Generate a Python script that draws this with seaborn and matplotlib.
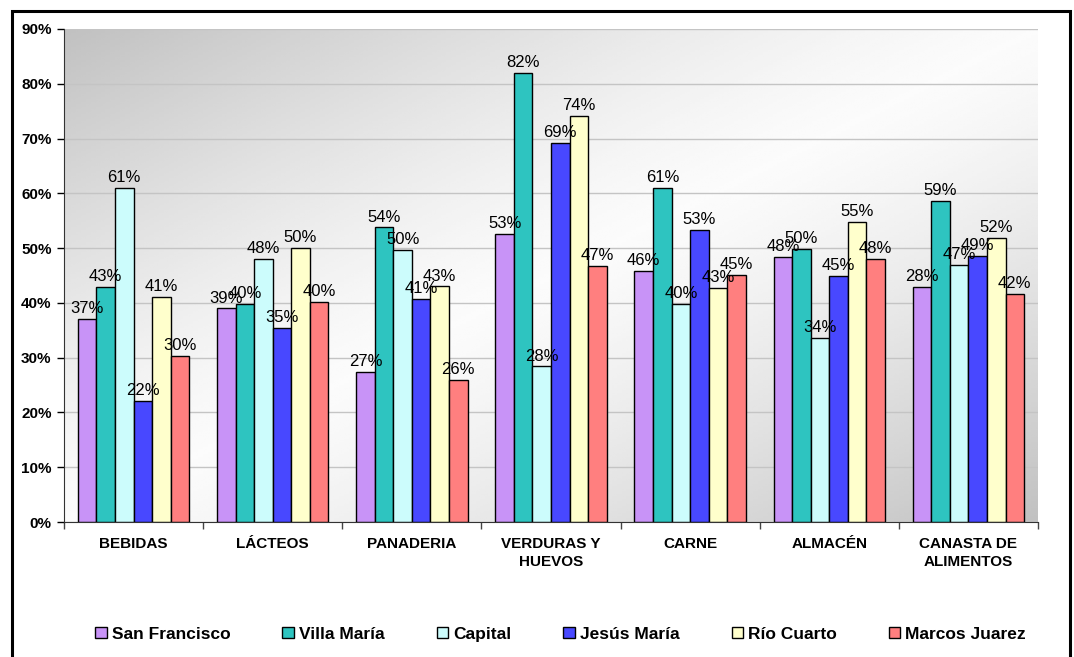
import matplotlib
matplotlib.use("Agg")
import matplotlib.pyplot as plt
import matplotlib.patches as mpatches
from matplotlib.ticker import FuncFormatter, FixedLocator
import numpy as np
import pandas as pd
import seaborn as sns

# categorias y ciudades
categorias = ['BEBIDAS', 'LÁCTEOS', 'PANADERIA', 'VERDURAS Y\nHUEVOS', 'CARNE', 'ALMACÉN',
              'CANASTA DE\nALIMENTOS']
ciudades = ['San Francisco', 'Villa María', 'Capital', 'Jesús María', 'Río Cuarto', 'Marcos Juarez']

# alturas de las barras
san_francisco = [37.1, 39.0, 27.4, 52.6, 45.8, 48.4, 42.9]
villa_maria = [42.9, 39.8, 53.8, 82.0, 61.0, 49.8, 58.6]
capital = [61.0, 48.0, 49.7, 28.4, 39.8, 33.6, 46.9]
jesus_maria = [22.1, 35.4, 40.7, 69.2, 53.3, 44.9, 48.6]
rio_cuarto = [41.1, 50.0, 43.0, 74.1, 42.7, 54.8, 51.8]
marcos_juarez = [30.3, 40.2, 25.9, 46.7, 45.1, 48.0, 41.6]

# etiquetas tal como aparecen (la de Canasta / San Francisco dice 28%)
etiq_san_francisco = ['37%', '39%', '27%', '53%', '46%', '48%', '28%']
etiq_villa_maria = ['43%', '40%', '54%', '82%', '61%', '50%', '59%']
etiq_capital = ['61%', '48%', '50%', '28%', '40%', '34%', '47%']
etiq_jesus_maria = ['22%', '35%', '41%', '69%', '53%', '45%', '49%']
etiq_rio_cuarto = ['41%', '50%', '43%', '74%', '43%', '55%', '52%']
etiq_marcos_juarez = ['30%', '40%', '26%', '47%', '45%', '48%', '42%']

colores = ['#C893F7', '#2EC4C0', '#CCFCFC', '#4848FF', '#FFFFCC', '#FF7F7F']

series = [san_francisco, villa_maria, capital, jesus_maria, rio_cuarto, marcos_juarez]
etiquetas = [etiq_san_francisco, etiq_villa_maria, etiq_capital, etiq_jesus_maria,
             etiq_rio_cuarto, etiq_marcos_juarez]

filas = []
for ciudad, valores in zip(ciudades, series):
    for cat, v in zip(categorias, valores):
        filas.append({'categoria': cat, 'ciudad': ciudad, 'valor': v})
df = pd.DataFrame(filas)

sns.set_style('white')
plt.rcParams['font.family'] = ['Liberation Sans', 'DejaVu Sans']
plt.rcParams['text.color'] = 'black'
plt.rcParams['xtick.color'] = 'black'
plt.rcParams['ytick.color'] = 'black'

fig = plt.figure(figsize=(10.74, 6.57), dpi=100)
ax = fig.add_axes([64 / 1074, 1 - 522 / 657, (1038 - 64) / 1074, (522 - 29) / 657])

# fondo degradado gris-blanco-gris en diagonal
n = 200
u, w = np.meshgrid(np.linspace(0, 1, n), np.linspace(0, 1, n))
d = np.abs(u + w - 1.0)
grad = 0.985 - 0.23 * d ** 1.3
ax.imshow(grad, extent=[0, 1, 0, 1], transform=ax.transAxes, cmap='gray', vmin=0, vmax=1,
          aspect='auto', zorder=0, interpolation='bilinear')

sns.barplot(data=df, x='categoria', y='valor', hue='ciudad', order=categorias, hue_order=ciudades,
            palette=colores, edgecolor='black', linewidth=1, width=0.8, saturation=1,
            errorbar=None, ax=ax, zorder=2)

for cont, etq in zip(ax.containers, etiquetas):
    ax.bar_label(cont, labels=etq, padding=2, fontsize=12, color='black', zorder=3)

ax.set_xlim(-0.5, 6.5)
ax.set_ylim(0, 90)
ax.set_yticks(range(0, 91, 10))
ax.yaxis.set_major_formatter(FuncFormatter(lambda v, p: f'{v:.0f}%'))
ax.yaxis.grid(True, color='#c4c4c4', linewidth=1, zorder=1)
ax.set_axisbelow(True)

ax.set_xlabel('')
ax.set_ylabel('')
ax.tick_params(axis='y', labelsize=11, length=5, width=1, direction='out', left=True, pad=4,
               labelcolor='black')
ax.tick_params(axis='x', which='major', labelsize=11, length=0, pad=11, labelcolor='black')
ax.xaxis.set_minor_locator(FixedLocator(np.arange(-0.5, 7, 1)))
ax.tick_params(axis='x', which='minor', length=5, width=1, direction='out', bottom=True, color='#444444')
for lbl in ax.get_xticklabels() + ax.get_yticklabels():
    lbl.set_fontweight('bold')
for lbl in ax.get_xticklabels():
    lbl.set_verticalalignment('top')
    lbl.set_linespacing(1.35)

sns.despine(ax=ax, top=True, right=True)
ax.spines['left'].set_color('#333333')
ax.spines['bottom'].set_color('#333333')

# leyenda abajo
handles, labels = ax.get_legend_handles_labels()
if ax.get_legend() is not None:
    ax.get_legend().remove()
fig.legend(handles, labels, loc='center', bbox_to_anchor=(0.522, 0.035), ncol=6, frameon=False,
           prop={'weight': 'bold', 'size': 12.5}, handlelength=0.65, handleheight=0.65,
           handletextpad=0.3, columnspacing=3.0, labelcolor='black')

# marco exterior
marco = mpatches.Rectangle((12 / 1074, -0.05), (1070 - 12) / 1074, 1 - 11 / 657 + 0.05,
                           transform=fig.transFigure, fill=False, edgecolor='black', linewidth=2.2,
                           clip_on=False)
fig.patches.append(marco)

fig.savefig('out.png', dpi=100)
